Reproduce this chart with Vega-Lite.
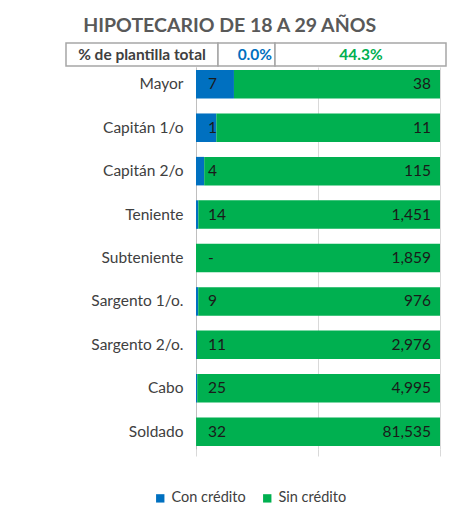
{
  "$schema": "https://vega.github.io/schema/vega-lite/v6.json",
  "background": "white",
  "padding": {"left": 65, "top": 15, "right": 5, "bottom": 5},
  "autosize": {"type": "pad"},
  "title": {"text": "HIPOTECARIO DE 18 A 29 AÑOS", "font": "Lato", "fontSize": 19.5, "fontWeight": "bold", "color": "#595959", "anchor": "start", "dx": 18, "offset": 6},
  "config": {"view": {"stroke": null}, "font": "Lato"},
  "spacing": 0,
  "resolve": {"legend": {"color": "independent"}},
  "vconcat": [
    {
      "width": 244,
      "height": 23,
      "data": {"values": [{"indicador": "% de plantilla total", "con": 0.0, "sin": 0.443}]},
      "layer": [
        {"mark": {"type": "rect", "fill": "white", "stroke": "#a6a6a6", "strokeWidth": 1.5},
         "encoding": {"x": {"datum": -0.5328, "type": "quantitative", "scale": {"domain": [0, 1], "nice": false, "zero": false}, "axis": null}, "x2": {"datum": 0.0902}}},
        {"mark": {"type": "rect", "fill": "white", "stroke": "#a6a6a6", "strokeWidth": 1.5},
         "encoding": {"x": {"datum": 0.0902, "type": "quantitative"}, "x2": {"datum": 0.3238}}},
        {"mark": {"type": "rect", "fill": "white", "stroke": "#a6a6a6", "strokeWidth": 1.5},
         "encoding": {"x": {"datum": 0.3238, "type": "quantitative"}, "x2": {"datum": 1.0246}}},
        {"mark": {"type": "text", "fontWeight": "bold", "fontSize": 15.5, "color": "#404040"},
         "encoding": {"x": {"datum": -0.2213, "type": "quantitative"}, "text": {"field": "indicador"}}},
        {"mark": {"type": "text", "fontWeight": "bold", "fontSize": 15.5, "color": "#0070C0", "align": "right"},
         "encoding": {"x": {"datum": 0.3115, "type": "quantitative"}, "text": {"field": "con", "format": ".1%"}}},
        {"mark": {"type": "text", "fontWeight": "bold", "fontSize": 15.5, "color": "#00B050"},
         "encoding": {"x": {"datum": 0.676, "type": "quantitative"}, "text": {"field": "sin", "format": ".1%"}}}
      ]
    },
    {
      "width": 244,
      "height": 382,
      "data": {"values": [
        {"rango": "Mayor", "tipo": "Con crédito", "valor": 7},
        {"rango": "Mayor", "tipo": "Sin crédito", "valor": 38},
        {"rango": "Capitán 1/o", "tipo": "Con crédito", "valor": 1},
        {"rango": "Capitán 1/o", "tipo": "Sin crédito", "valor": 11},
        {"rango": "Capitán 2/o", "tipo": "Con crédito", "valor": 4},
        {"rango": "Capitán 2/o", "tipo": "Sin crédito", "valor": 115},
        {"rango": "Teniente", "tipo": "Con crédito", "valor": 14},
        {"rango": "Teniente", "tipo": "Sin crédito", "valor": 1451},
        {"rango": "Subteniente", "tipo": "Con crédito", "valor": 0},
        {"rango": "Subteniente", "tipo": "Sin crédito", "valor": 1859},
        {"rango": "Sargento 1/o.", "tipo": "Con crédito", "valor": 9},
        {"rango": "Sargento 1/o.", "tipo": "Sin crédito", "valor": 976},
        {"rango": "Sargento 2/o.", "tipo": "Con crédito", "valor": 11},
        {"rango": "Sargento 2/o.", "tipo": "Sin crédito", "valor": 2976},
        {"rango": "Cabo", "tipo": "Con crédito", "valor": 25},
        {"rango": "Cabo", "tipo": "Sin crédito", "valor": 4995},
        {"rango": "Soldado", "tipo": "Con crédito", "valor": 32},
        {"rango": "Soldado", "tipo": "Sin crédito", "valor": 81535}
      ]},
      "encoding": {
        "y": {"field": "rango", "type": "nominal",
              "sort": ["Mayor", "Capitán 1/o", "Capitán 2/o", "Teniente", "Subteniente", "Sargento 1/o.", "Sargento 2/o.", "Cabo", "Soldado"],
              "scale": {"paddingInner": 0.343, "paddingOuter": 0.07},
              "axis": {"title": null, "ticks": false, "domainColor": "#bfbfbf", "labelFontSize": 15.5, "labelColor": "#404040", "labelPadding": 13, "labelFont": "Lato"}}
      },
      "layer": [
        {"mark": {"type": "bar"},
         "encoding": {
           "x": {"field": "valor", "type": "quantitative", "stack": "normalize", "scale": {"domain": [0, 1], "nice": false},
                 "axis": {"values": [0, 0.5, 1], "labels": false, "domain": false, "ticks": true, "tickSize": 7, "tickColor": "#d9d9d9", "gridColor": "#d9d9d9", "title": null}},
           "color": {"field": "tipo", "type": "nominal",
                     "scale": {"domain": ["Con crédito", "Sin crédito"], "range": ["#0070C0", "#00B050"]},
                     "legend": {"orient": "none", "legendX": -43, "legendY": 424, "direction": "horizontal", "title": null, "symbolType": "square", "symbolSize": 70, "symbolStrokeWidth": 0, "labelFontSize": 14.5, "labelColor": "#404040", "labelFont": "Lato", "columnPadding": 14}}
         }},
        {"transform": [{"filter": "datum.tipo == 'Con crédito'"}],
         "mark": {"type": "text", "align": "left", "dx": 12, "fontSize": 15.5, "color": "#1a1a1a"},
         "encoding": {"x": {"datum": 0, "type": "quantitative"},
                      "text": {"condition": {"test": "datum.valor == 0", "value": "-"}, "field": "valor", "type": "quantitative", "format": ",d"}}},
        {"transform": [{"filter": "datum.tipo == 'Sin crédito'"}],
         "mark": {"type": "text", "align": "right", "dx": -9, "fontSize": 15.5, "color": "#1a1a1a"},
         "encoding": {"x": {"datum": 1, "type": "quantitative"},
                      "text": {"field": "valor", "type": "quantitative", "format": ",d"}}}
      ]
    }
  ]
}
